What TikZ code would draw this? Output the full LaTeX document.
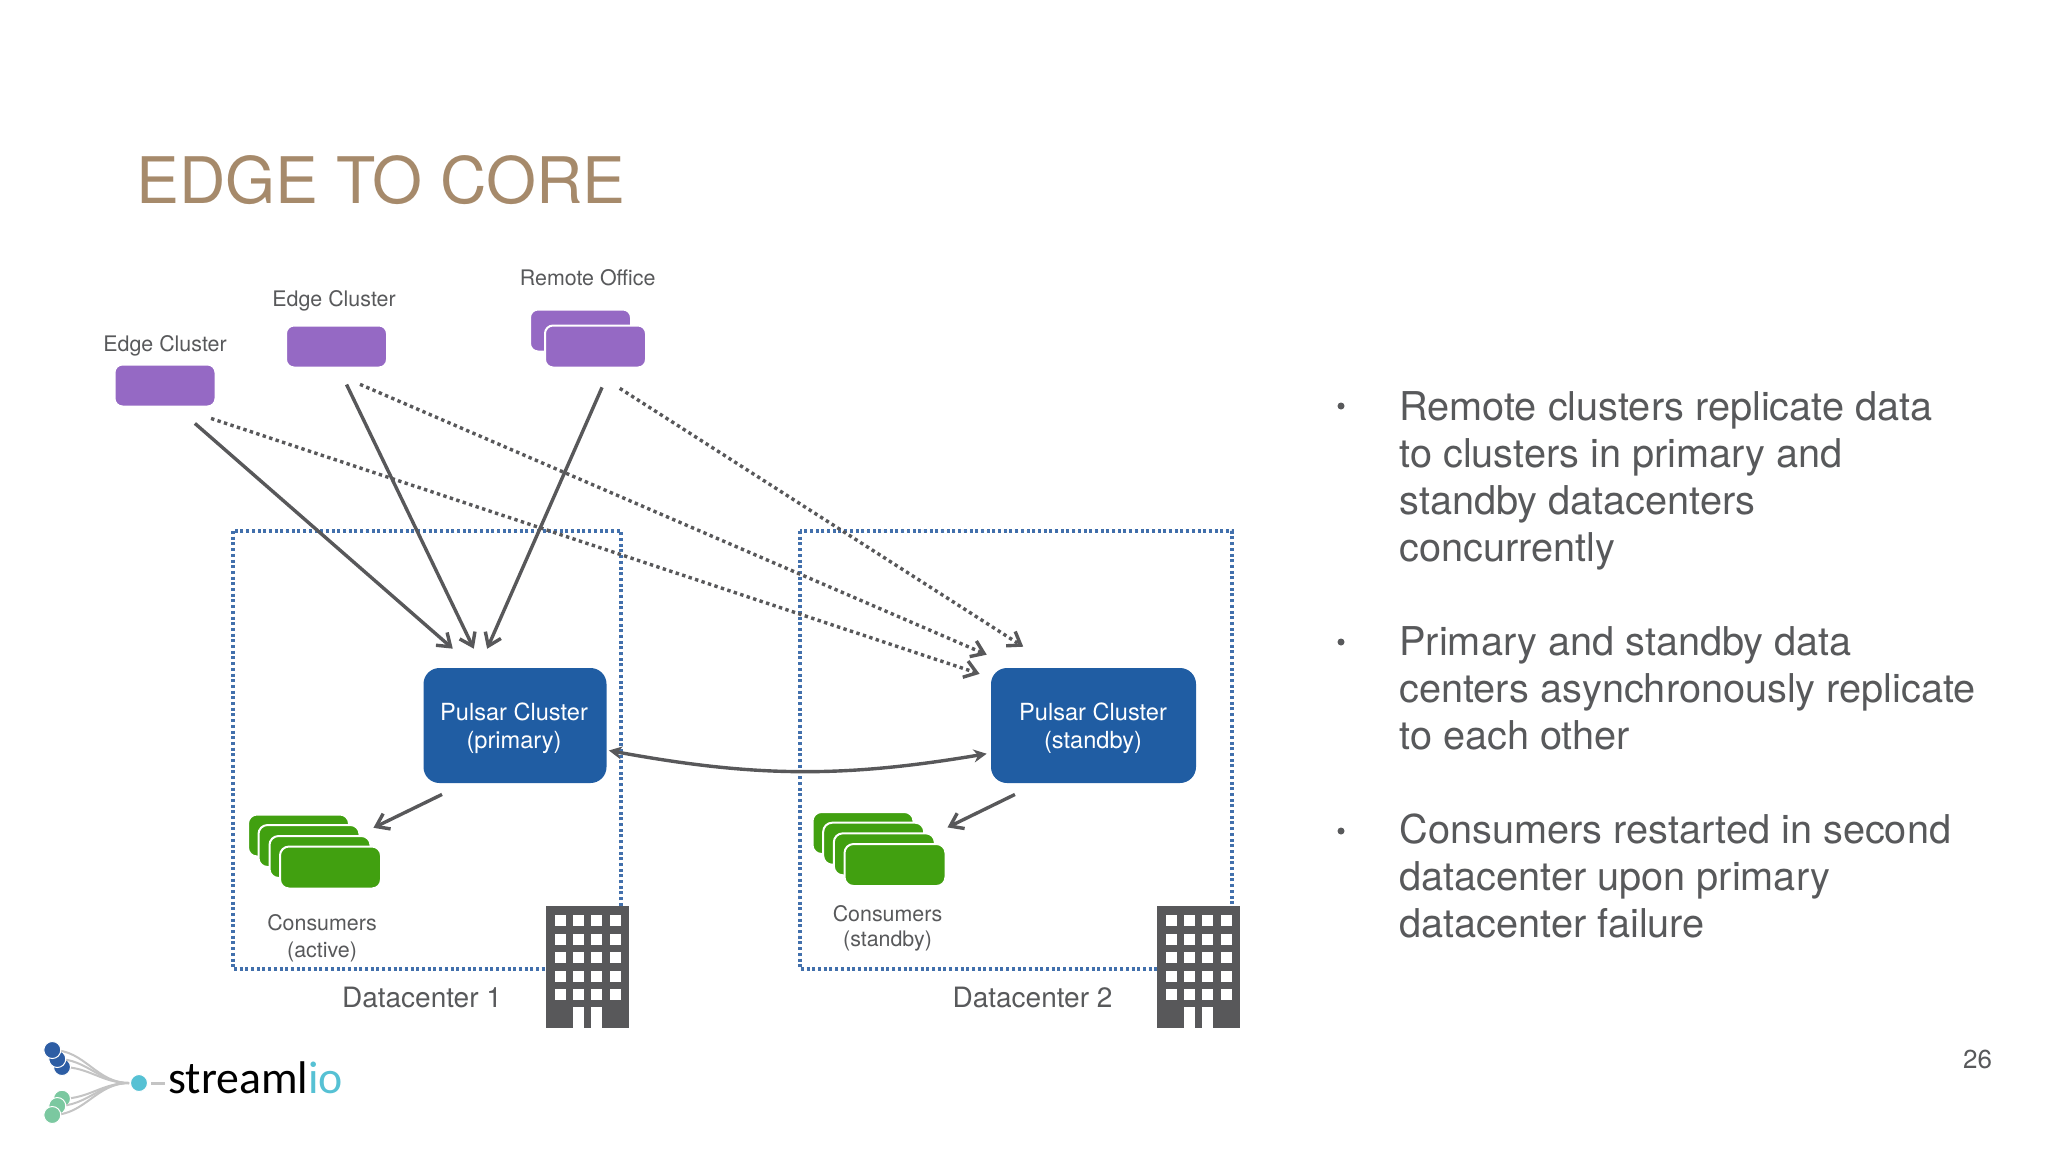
\documentclass[tikz,border=0pt]{standalone}
\usepackage{fontspec}
\setmainfont{TeX Gyre Heros}
\newfontfamily\logofont{Carlito}
\usepackage{xcolor}
\definecolor{titletan}{RGB}{166,138,107}
\definecolor{textgray}{RGB}{88,89,91}
\definecolor{linegray}{RGB}{88,88,90}
\definecolor{edgepurple}{RGB}{149,105,196}
\definecolor{pulsarblue}{RGB}{32,93,163}
\definecolor{consumergreen}{RGB}{65,160,16}
\definecolor{dcblue}{RGB}{66,112,172}
\definecolor{logoteal}{RGB}{86,193,212}
\definecolor{logoblue}{RGB}{45,93,164}
\definecolor{logogreen}{RGB}{123,200,160}
\definecolor{logogray}{RGB}{196,196,196}
\usetikzlibrary{arrows.meta}
\tikzset{
  edgebox/.style={fill=edgepurple,draw=white,line width=1pt,rounded corners=4pt,
    minimum width=50.5pt,minimum height=21pt,inner sep=0pt},
  consumerbox/.style={fill=consumergreen,draw=white,line width=1pt,rounded corners=4.5pt,
    minimum width=50.5pt,minimum height=21pt,inner sep=0pt},
  pulsarbox/.style={fill=pulsarblue,rounded corners=8pt,minimum height=57.5pt,inner sep=0pt},
  pulsartext/.style={text=white,align=center,inner sep=0pt,font=\fontsize{11.8}{13.8}\selectfont},
  smalllabel/.style={text=textgray,align=center,inner sep=0pt,font=\fontsize{10.7}{12.5}\selectfont},
  dclabel/.style={text=textgray,inner sep=0pt,font=\fontsize{14}{16}\selectfont},
  bodytext/.style={text=textgray,align=left,anchor=north west,inner sep=0pt,
    font=\fontsize{19.85}{23.5}\selectfont},
  bulletdot/.style={circle,fill=textgray,minimum size=3.5pt,inner sep=0pt},
  dcframe/.style={draw=dcblue,line width=1.6pt,dash pattern=on 1.5pt off 1.35pt},
  solidarrow/.style={draw=linegray,line width=1.7pt,-{Straight Barb[length=6pt,width=8.5pt]}},
  dottedarrow/.style={draw=linegray,line width=1.7pt,dash pattern=on 1.7pt off 1.7pt,
    -{Straight Barb[length=6pt,width=8.5pt]}},
  logodot/.style={circle,draw=white,line width=.5pt,minimum size=8.5pt,inner sep=0pt},
  logoline/.style={draw=logogray,line width=1pt}
}

\begin{document}
\begin{tikzpicture}[x=0.5pt,y=-0.5pt]
        % Page
        \useasboundingbox (0,0) rectangle (2048,1152);
        \fill[white] (0,0) rectangle (2048,1152);
        % Title
        \node[anchor=base west,inner sep=0pt,text=titletan,font=\fontsize{32.1}{36}\selectfont] (title) at (136,203) {EDGE TO CORE};
        % Datacenter frames
        \draw[dcframe] (233,531) rectangle (621,969);
        \draw[dcframe] (800,531) rectangle (1232,969);
        % Buildings
        \foreach \bx in {546,1157} {
            \begin{scope}[shift={(\bx,906)}]
                \fill[linegray] (0,0) rectangle (82.7,121.7);
                \foreach \col in {0,1,2,3}
                    \foreach \row in {0,1,2,3,4}
                        \fill[white] ({8.7+18.3*\col},{9.3+18.5*\row}) rectangle ++(11,11);
                \fill[white] (27,101) rectangle (37.7,121.7);
                \fill[white] (45.3,101) rectangle (56,121.7);
            \end{scope}
        }
        % Edge side
        \node[edgebox] (edgeA) at (165,385.5) {};
        \node[edgebox] (edgeB) at (336.5,346.5) {};
        \node[edgebox] (remoteBack) at (580.5,330.5) {};
        \node[edgebox] (remoteFront) at (595.5,346.5) {};
        \node[smalllabel] (edgeAlabel) at (165,346) {Edge Cluster};
        \node[smalllabel] (edgeBlabel) at (334,301) {Edge Cluster};
        \node[smalllabel] (remotelabel) at (587.7,278) {Remote Office};
        % Pulsar clusters
        \node[pulsarbox,minimum width=91.5pt] (pulsarA) at (515,725.5) {};
        \node[pulsarbox,minimum width=102.5pt] (pulsarB) at (1093.5,725.5) {};
        \node[pulsartext] (pulsarAtext) at (514,728) {Pulsar Cluster\\(primary)};
        \node[pulsartext] (pulsarBtext) at (1093,728) {Pulsar Cluster\\(standby)};
        % Consumers
        \foreach \i/\x/\y in {1/298.5/835.5,2/309/846,3/320/857,4/330.5/867.5}
            \node[consumerbox] (consA\i) at (\x,\y) {};
        \foreach \i/\x/\y in {1/863/833,2/873.7/843.7,3/884.3/854.3,4/895/865}
            \node[consumerbox] (consB\i) at (\x,\y) {};
        \node[smalllabel] (consAlabel) at (322,938) {Consumers\\[1pt](active)};
        \node[smalllabel] (consBlabel) at (887.5,928.5) {Consumers\\(standby)};
        \node[dclabel] (dcAlabel) at (422,997.4) {Datacenter 1};
        \node[dclabel] (dcBlabel) at (1032.5,997.4) {Datacenter 2};
        % Replication to primary
        \draw[solidarrow,shorten <=12.1pt,shorten >=14.4pt] (edgeA.-62.2) -- (pulsarA.125.8);
        \draw[solidarrow,shorten <=8.9pt,shorten >=10.5pt] (edgeB.-84.7) -- (pulsarA.119.8);
        \draw[solidarrow,shorten <=10.3pt,shorten >=10.3pt] (remoteFront.-56.2) -- (pulsarA.122.2);
        % Replication to standby
        \draw[dottedarrow,shorten <=17.3pt,shorten >=5.8pt] (edgeA.-59) -- (pulsarB.155.9);
        \draw[dottedarrow,shorten <=20pt,shorten >=16.3pt] (edgeB.-121.4) -- (pulsarB.143.1);
        \draw[dottedarrow,shorten <=18.4pt,shorten >=19.4pt] (remoteFront.-107.6) -- (pulsarB.123.4);
        % Between clusters
        \draw[draw=linegray,line width=1.7pt,{Stealth[length=6.5pt,width=6.5pt]}-{Stealth[length=6.5pt,width=6.5pt]},shorten <=1pt,shorten >=2pt]
            (pulsarA.-15.6) to[bend right=10] (pulsarB.195);
        % Down to consumers
        \draw[solidarrow,shorten <=12.6pt,shorten >=7.2pt] (pulsarA.-131) -- (consA2.13.5);
        \draw[solidarrow,shorten <=12.6pt,shorten >=12.4pt] (pulsarB.-134) -- (consB2.6.8);
        % Bullets
        \node[bulletdot] (bulletA) at (1341,406) {};
        \node[bulletdot] (bulletB) at (1341,642) {};
        \node[bulletdot] (bulletC) at (1341,831) {};
        \node[bodytext] (textA) at (1399,391) {Remote clusters replicate data\\to clusters in primary and\\standby datacenters\\concurrently};
        \node[bodytext] (textB) at (1399,626) {Primary and standby data\\centers asynchronously replicate\\to each other};
        \node[bodytext] (textC) at (1399,813) {Consumers restarted in second\\datacenter upon primary\\datacenter failure};
        % Page number
        \node[text=textgray,inner sep=0pt,font=\fontsize{13}{16}\selectfont] (pagenum) at (1977.5,1059) {26};
        % Logo
        \coordinate (logoJoin) at (129,1083);
        \node[logodot,fill=logoteal] (logoHub) at (139,1083) {};
        \foreach \nm/\x/\y/\c in {BlueC/62/1067/logoblue,BlueB/57.3/1059/logoblue,BlueA/52.3/1050/logoblue,
                                  GreenC/62/1098.7/logogreen,GreenB/57.3/1106/logogreen,GreenA/52.3/1115/logogreen} {
            \draw[logoline] (\x,\y) to[out=0,in=180] (logoJoin);
            \node[logodot,fill=\c] (logo\nm) at (\x,\y) {};
        }
        \node[anchor=base west,inner sep=0pt,font=\logofont\fontsize{22.9}{26}\selectfont] (logoText) at (168,1093) {streaml\textcolor{logoteal}{io}};
        \draw[logoline,line width=1.5pt,shorten <=1.5pt,shorten >=1.5pt] (logoHub) -- (logoHub -| logoText.west);
    \end{tikzpicture}
\end{document}
